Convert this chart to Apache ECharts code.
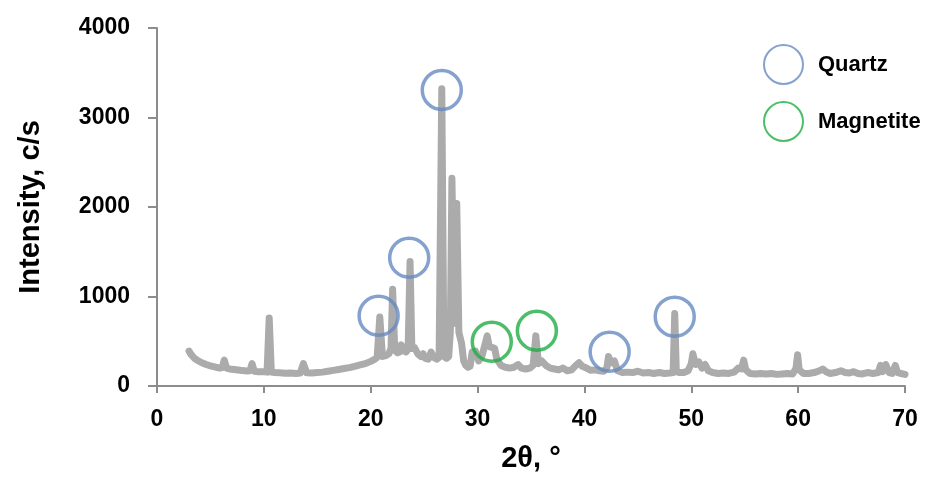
<!DOCTYPE html>
<html><head><meta charset="utf-8">
<script src="https://cdn.jsdelivr.net/npm/echarts@6/dist/echarts.min.js"></script>
<style>html,body{margin:0;padding:0;background:#fff}#c{width:950px;height:479px}</style>
</head><body><div id="c"></div>
<script>
const twoTheta = [
3.0,3.2,3.5,3.8,4.2,4.6,5.0,5.5,5.9,6.1,6.3,6.5,6.8,7.2,7.6,8.0,8.4,8.7,8.9,9.1,
9.5,10.0,10.3,10.5,10.7,11.0,11.5,12.0,12.5,13.0,13.4,13.7,14.0,14.5,15.0,15.5,16.0,16.5,17.0,17.5,
18.0,18.5,19.0,19.5,20.0,20.4,20.6,20.85,21.1,21.4,21.7,21.9,22.05,22.25,22.5,22.7,22.85,23.0,23.3,23.5,
23.68,23.85,24.1,24.4,24.7,24.9,25.1,25.4,25.65,25.9,26.2,26.4,26.65,26.85,27.1,27.3,27.45,27.6,27.8,27.95,
28.05,28.25,28.5,28.7,28.9,29.1,29.3,29.5,29.8,30.1,30.4,30.6,30.9,31.1,31.4,31.6,31.8,32.2,32.6,33.0,
33.4,33.8,34.1,34.5,34.9,35.2,35.45,35.7,36.0,36.4,36.8,37.2,37.6,38.0,38.4,38.8,39.2,39.5,39.8,40.2,
40.6,41.0,41.4,41.8,42.1,42.25,42.5,42.8,43.1,43.6,44.0,44.5,45.0,45.5,46.0,46.5,47.0,47.5,48.0,48.3,
48.45,48.6,48.9,49.3,49.7,50.0,50.15,50.4,50.7,51.0,51.3,51.6,52.0,52.5,53.0,53.5,54.0,54.4,54.7,54.9,
55.1,55.5,56.0,56.5,57.0,57.5,58.0,58.5,59.0,59.5,59.8,59.95,60.1,60.5,61.0,61.5,62.0,62.3,62.6,63.0,
63.5,64.0,64.4,64.8,65.2,65.6,66.0,66.5,67.0,67.5,67.7,67.9,68.2,68.5,68.8,69.1,69.3,69.6,70.0
];
const intensity = [
390,350,310,285,260,240,225,210,200,205,290,200,190,185,178,172,168,170,250,165,
160,158,155,760,155,150,148,142,145,140,145,250,148,145,150,155,165,175,185,195,
205,220,235,250,275,300,320,770,330,340,360,420,1080,400,370,380,460,400,380,410,
1390,420,430,360,330,360,310,300,380,320,300,320,3320,330,310,330,600,2320,900,700,
2040,600,480,280,230,210,220,380,390,280,330,420,560,440,430,420,300,230,210,200,
210,240,200,190,200,230,560,250,280,230,200,190,180,200,170,180,230,260,220,200,
175,180,170,165,200,330,260,280,170,150,155,150,165,145,150,140,150,140,145,150,
810,160,150,150,170,250,360,240,270,200,240,170,150,140,145,140,155,200,190,290,
180,140,135,140,135,140,130,135,140,135,200,350,180,140,140,150,170,190,160,140,
150,170,150,145,160,140,135,150,140,150,230,160,240,150,140,230,150,140,130
];
const quartzMarks = [[20.74,785],[23.6,1433],[26.65,3307],[42.36,383],[48.45,775]];
const magnetiteMarks = [[31.33,495],[35.55,618]];
const xMin = 0, xMax = 70, xStep = 10;
const yMin = 0, yMax = 4000, yStep = 1000;

const chart = echarts.init(document.getElementById('c'), null, {renderer: 'canvas'});
const pattern = twoTheta.map((t, i) => [t, intensity[i]]);
const font = 'Liberation Sans, Arial, sans-serif';
const axisLine = {show: true, lineStyle: {color: '#8c8c8c', width: 2}};
const markerStyle = c => ({color: 'rgba(0,0,0,0)', borderColor: c, borderWidth: 3.5});
chart.setOption({
  animation: false,
  backgroundColor: '#fff',
  grid: {left: 157, right: 45, top: 28, bottom: 93, containLabel: false},
  legend: {
    orient: 'vertical', left: 758, top: 39, itemWidth: 39, itemHeight: 39, itemGap: 16,
    selectedMode: false,
    data: [{name: 'Quartz', icon: 'circle'}, {name: 'Magnetite', icon: 'circle'}],
    textStyle: {fontFamily: font, fontWeight: 'bold', fontSize: 22, color: '#000', padding: [0, 0, 0, 10]}
  },
  xAxis: {
    type: 'value', min: xMin, max: xMax, interval: xStep,
    name: '2θ, °', nameLocation: 'middle', nameGap: 58,
    nameTextStyle: {fontFamily: font, fontWeight: 'bold', fontSize: 29, color: '#000'},
    axisLine: axisLine,
    axisTick: {show: true, length: 7, lineStyle: {color: '#8c8c8c', width: 2}},
    axisLabel: {fontFamily: font, fontWeight: 'bold', fontSize: 23, color: '#000', margin: 22},
    splitLine: {show: false}
  },
  yAxis: {
    type: 'value', min: yMin, max: yMax, interval: yStep,
    name: 'Intensity, c/s', nameLocation: 'middle', nameGap: 112,
    nameTextStyle: {fontFamily: font, fontWeight: 'bold', fontSize: 29, color: '#000'},
    axisLine: axisLine,
    axisTick: {show: true, inside: false, length: 9, lineStyle: {color: '#8c8c8c', width: 2}},
    axisLabel: {fontFamily: font, fontWeight: 'bold', fontSize: 23, color: '#000', margin: 27,
      formatter: v => String(v)},
    splitLine: {show: false}
  },
  series: [
    {
      name: 'XRD', type: 'line', data: pattern, showSymbol: false, symbol: 'none', smooth: false,
      lineStyle: {color: '#ababab', width: 7, cap: 'round', join: 'round'},
      silent: true, z: 2
    },
    {
      name: 'Quartz', type: 'scatter', data: quartzMarks, symbol: 'circle', symbolSize: 39,
      itemStyle: markerStyle('#6689c2'), silent: true, z: 3
    },
    {
      name: 'Magnetite', type: 'scatter', data: magnetiteMarks, symbol: 'circle', symbolSize: 39,
      itemStyle: markerStyle('#1fae45'), silent: true, z: 3
    }
  ]
});
</script>
</body></html>
